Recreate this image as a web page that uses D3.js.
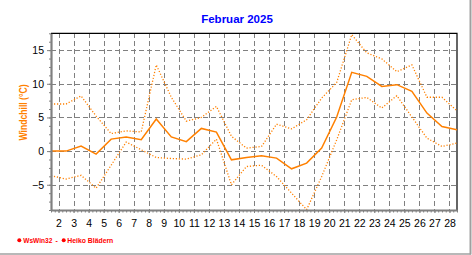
<!DOCTYPE html>
<html><head><meta charset="utf-8">
<script src="https://cdn.jsdelivr.net/npm/d3@7"></script>
<style>body{margin:0;background:#fff}svg{display:block}</style>
</head><body><svg id="c" width="472" height="255"></svg>
<script>
// ---- data (Februar 2025, Windchill °C) ----
const days = d3.range(1, 29);
const meanVals = [0, 0, 0.74, -0.45, 1.78, 2.08, 1.68, 4.76, 2.1, 1.4, 3.37, 2.83, -1.3, -0.95,
                  -0.68, -1.04, -2.63, -1.79, 0.44, 5.06, 11.7, 11.1, 9.6, 9.87, 8.87, 5.65, 3.66, 3.17];
const maxVals  = [7.0, 7.0, 8.2, 5.2, 2.6, 3.0, 2.85, 12.8, 8.0, 4.45, 5.0, 6.64, 2.2, 0.44,
                  0.69, 4.0, 3.3, 4.66, 7.88, 10.2, 17.3, 14.6, 13.7, 11.8, 12.8, 8.0, 8.0, 6.0];
const minVals  = [-3.65, -4.15, -3.6, -5.5, -2.1, 1.34, 0.2, -0.95, -1.1, -1.19, -0.55, 1.78, -5.0, -2.29,
                  -2.1, -3.78, -6.25, -8.7, -3.78, 1.68, 7.63, 7.98, 6.4, 8.23, 5.06, 1.93, 0.69, 1.19];
const yTickValues = [-5, 0, 5, 10, 15];
const xTickLabels = ["2","3","4","5","6","7","8","9","10","11","12","13","14","15",
                     "16","17","18","19","20","21","22","23","24","25","26","27","28"];
const titleText = "Februar 2025";
const yTitle = "Windchill  (°C)";

// ---- layout ----
const L = 51, R = 457, T = 33.3, B = 210;
const FONT = "'Liberation Sans', Arial, sans-serif";
const ORANGE = "#FF8000";
const svg = d3.select("#c");

const x = d3.scaleLinear().domain([1.5, 28.5]).range([L, R]);
const y = d3.scaleLinear().domain([-8.75, 17.5]).range([B, T]);

// outer border (right / bottom)
svg.append("line").attr("x1", 470.5).attr("x2", 470.5).attr("y1", 0).attr("y2", 254.5)
  .attr("stroke", "#a0a0a0").attr("stroke-width", 2);
svg.append("line").attr("x1", 0).attr("x2", 471).attr("y1", 254).attr("y2", 254)
  .attr("stroke", "#a0a0a0").attr("stroke-width", 1.5);

// title
svg.append("text").attr("x", 237).attr("y", 22.7).attr("text-anchor", "middle")
  .attr("font-family", FONT).attr("font-size", 11.5).attr("font-weight", "bold")
  .attr("fill", "#0000FF").text(titleText);

// grid
const grid = svg.append("g").attr("stroke", "#808080").attr("stroke-width", 1)
  .attr("stroke-dasharray", "4.5,3.5").attr("shape-rendering", "crispEdges");
grid.selectAll(".gh").data(yTickValues).join("line")
  .attr("x1", L).attr("x2", R).attr("y1", d => Math.round(y(d)) + 0.5).attr("y2", d => Math.round(y(d)) + 0.5);
grid.selectAll(".gv").data(xTickLabels).join("line")
  .attr("x1", d => Math.round(x(+d)) + 0.5).attr("x2", d => Math.round(x(+d)) + 0.5)
  .attr("y1", T).attr("y2", B);

// top / right frame
svg.append("path").attr("d", `M${L},${T}H${R}V${B}`).attr("fill", "none")
  .attr("stroke", "#000").attr("stroke-width", 1.2);

// series
svg.append("clipPath").attr("id", "clip").append("rect")
  .attr("x", L).attr("y", T).attr("width", R - L).attr("height", B - T);
const line = d3.line().x((d, i) => x(days[i] + 0.5)).y(d => y(d));
const series = svg.append("g").attr("clip-path", "url(#clip)");
series.append("path").datum(maxVals).attr("d", line).attr("fill", "none")
  .attr("stroke", ORANGE).attr("stroke-width", 1.3).attr("stroke-dasharray", "1.2,1.8");
series.append("path").datum(minVals).attr("d", line).attr("fill", "none")
  .attr("stroke", ORANGE).attr("stroke-width", 1.3).attr("stroke-dasharray", "1.2,1.8");
series.append("path").datum(meanVals).attr("d", line).attr("fill", "none")
  .attr("stroke", ORANGE).attr("stroke-width", 1.5);

// y axis
const yMinor = d3.range(-8.75, 17.6, 1.25);
svg.append("g").attr("transform", `translate(${L},0)`)
  .call(d3.axisLeft(y).tickValues(yMinor).tickSize(2).tickFormat(""))
  .call(g => g.select(".domain").remove())
  .call(g => g.selectAll("line").attr("stroke", "#808080"));
const ya = svg.append("g").attr("transform", `translate(${L},0)`)
  .call(d3.axisLeft(y).tickValues(yTickValues).tickSize(4).tickPadding(3).tickSizeOuter(0));
ya.select(".domain").attr("stroke", "#808080").attr("stroke-width", 2.2);
ya.selectAll("line").attr("stroke", "#808080");
ya.selectAll("text").attr("font-family", FONT).attr("font-size", 10.5).attr("fill", "#000");

// x axis
const xMinor = d3.range(1.5, 28.51, 0.25);
svg.append("g").attr("transform", `translate(0,${B})`)
  .call(d3.axisBottom(x).tickValues(xMinor).tickSize(2.5).tickFormat(""))
  .call(g => g.select(".domain").remove())
  .call(g => g.selectAll("line").attr("stroke", "#808080"));
const xa = svg.append("g").attr("transform", `translate(0,${B})`)
  .call(d3.axisBottom(x).tickValues(xTickLabels.map(Number)).tickSize(3).tickPadding(7)
    .tickSizeOuter(0).tickFormat((d, i) => xTickLabels[i]));
xa.select(".domain").attr("stroke", "#808080").attr("stroke-width", 2.2);
xa.selectAll("line").attr("stroke", "#808080");
xa.selectAll("text").attr("font-family", FONT).attr("font-size", 10.5).attr("fill", "#000");

// y title
svg.append("text").attr("transform", "translate(26.5,112.5) rotate(-90)")
  .attr("text-anchor", "middle").attr("font-family", FONT).attr("font-size", 11)
  .attr("font-weight", "bold").attr("fill", ORANGE)
  .attr("textLength", 56).attr("lengthAdjust", "spacingAndGlyphs").text(yTitle);

// credits
const cr = svg.append("g").attr("font-family", FONT).attr("font-size", 7)
  .attr("font-weight", "bold").attr("fill", "#FF0000");
cr.append("circle").attr("cx", 19.3).attr("cy", 240.2).attr("r", 2).attr("fill", "#FF0000");
cr.append("text").attr("x", 23.3).attr("y", 242.7)
  .attr("textLength", 29).attr("lengthAdjust", "spacingAndGlyphs").text("WsWin32");
cr.append("text").attr("x", 55.5).attr("y", 242.7).text("-");
cr.append("circle").attr("cx", 63.7).attr("cy", 240.2).attr("r", 2).attr("fill", "#FF0000");
cr.append("text").attr("x", 67.3).attr("y", 242.7)
  .attr("textLength", 46).attr("lengthAdjust", "spacingAndGlyphs").text("Heiko Blädern");
</script>
</body></html>
